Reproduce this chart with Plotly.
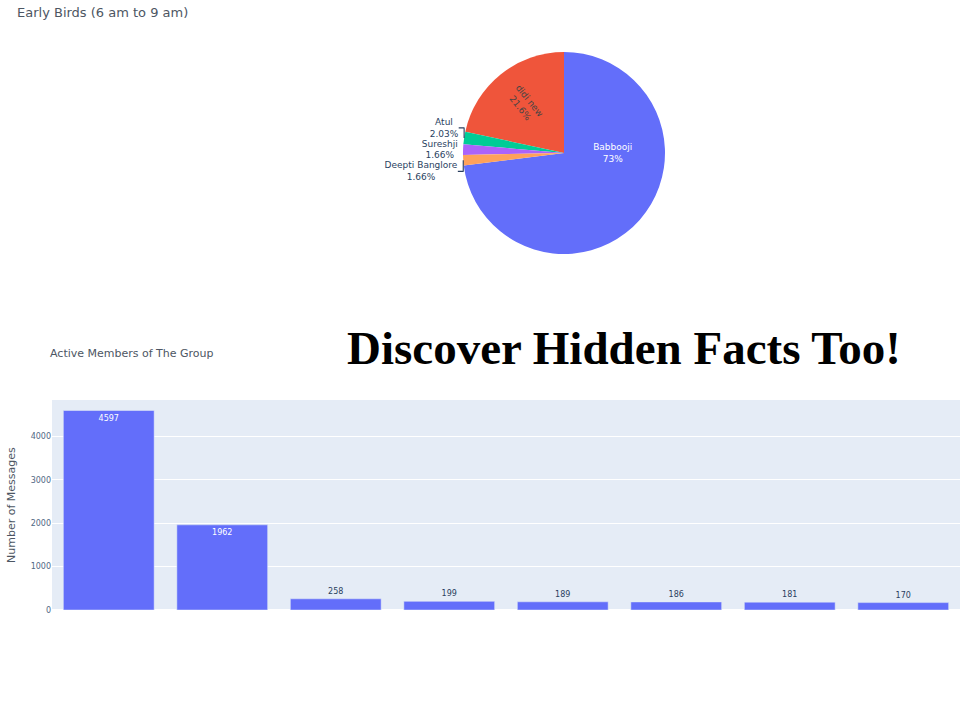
import plotly.graph_objects as go

# Pie data (Early Birds)
pie_labels = ["Babbooji", "didi new", "Atul", "Sureshji", "Deepti Banglore"]
pie_values = [791, 234, 22, 18, 18]

# Bar data (Active Members)
bar_members = ["Member 1", "Member 2", "Member 3", "Member 4",
               "Member 5", "Member 6", "Member 7", "Member 8"]
bar_counts = [4597, 1962, 258, 199, 189, 186, 181, 170]

W, H = 960, 720
def px(x): return x / W
def py(y): return 1 - y / H

fig = go.Figure()

fig.add_trace(go.Pie(
    labels=pie_labels, values=pie_values,
    textinfo="label+percent",
    insidetextorientation="radial",
    textfont=dict(size=9, family="DejaVu Sans"),
    domain=dict(x=[px(414), px(714)], y=[py(254), py(52)]),
    marker=dict(colors=["#636efa", "#EF553B", "#00cc96", "#ab63fa", "#FFA15A"]),
    showlegend=False, sort=True, automargin=False,
))

fig.add_trace(go.Bar(
    x=bar_members, y=bar_counts, text=bar_counts,
    textfont=dict(size=8, family="DejaVu Sans"),
    marker_color="#636efa",
    xaxis="x", yaxis="y", showlegend=False,
))

fig.update_layout(
    width=W, height=H,
    margin=dict(l=0, r=0, t=0, b=0, pad=0),
    template="plotly",
    font=dict(family="DejaVu Sans", color="#2a3f5f"),
    paper_bgcolor="white",
    xaxis=dict(domain=[px(52), 1], showticklabels=False, anchor="y",
               automargin=False),
    yaxis=dict(domain=[py(610), py(400)], anchor="x", automargin=False,
               tickfont=dict(size=8, family="DejaVu Sans", color="#506784"),
               tickvals=[0, 1000, 2000, 3000, 4000]),
    annotations=[
        dict(text="Early Birds (6 am to 9 am)", x=px(15), y=py(12),
             xref="paper", yref="paper", xanchor="left", yanchor="middle",
             showarrow=False, font=dict(size=13, family="DejaVu Sans", color="#4d5663")),
        dict(text="Active Members of The Group", x=px(48), y=py(353),
             xref="paper", yref="paper", xanchor="left", yanchor="middle",
             showarrow=False, font=dict(size=11, family="DejaVu Sans", color="#4d5663")),
        dict(text="Number of Messages", x=px(12), y=py(505), textangle=-90,
             xref="paper", yref="paper", xanchor="center", yanchor="middle",
             showarrow=False, font=dict(size=11, family="DejaVu Sans", color="#4d5663")),
        dict(text="<b>Discover Hidden Facts Too!</b>", x=px(624), y=py(348),
             xref="paper", yref="paper", xanchor="center", yanchor="middle",
             showarrow=False, font=dict(size=47, family="Liberation Serif", color="black")),
    ],
)

fig.write_html("out.html")
